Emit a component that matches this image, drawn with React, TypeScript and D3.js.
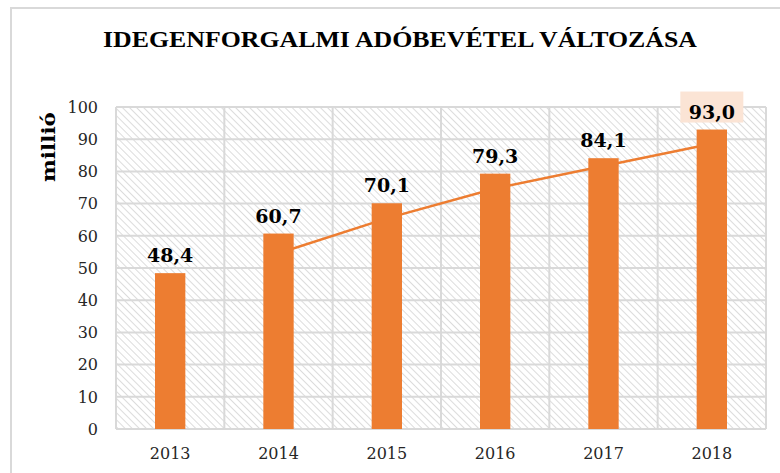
import React from "react";
import * as d3 from "d3";

const categories = ["2013", "2014", "2015", "2016", "2017", "2018"];
const values = [48.4, 60.7, 70.1, 79.3, 84.1, 93.0];
const valueLabels = ["48,4", "60,7", "70,1", "79,3", "84,1", "93,0"];
// 2-period moving average trendline (starts at 2014)
const trendCategories = ["2014", "2015", "2016", "2017", "2018"];
const trendValues = [54.6, 65.4, 74.7, 81.7, 88.6];
const yTicks = [0, 10, 20, 30, 40, 50, 60, 70, 80, 90, 100];
const title = "IDEGENFORGALMI ADÓBEVÉTEL VÁLTOZÁSA";
const yTitle = "millió";

const W = 780;
const H = 473;
const plot = { left: 116, right: 766, top: 107, bottom: 429 };
const ORANGE = "#ed7d31";
const GRID = "#d9d9d9";

export default function App() {
  const x = d3
    .scaleBand<string>()
    .domain(categories)
    .range([plot.left, plot.right])
    .paddingInner(0.72)
    .paddingOuter(0.36);
  const step = x.step();
  const y = d3.scaleLinear().domain([0, 100]).range([plot.bottom, plot.top]);

  const line = d3
    .line<number>()
    .x((_, i) => (x(trendCategories[i]) as number) + x.bandwidth() / 2)
    .y((d) => y(d));

  const boundaries = d3.range(categories.length + 1).map((i) => plot.left + i * step);

  return (
    <svg
      width={W}
      height={H}
      style={{ position: "absolute", left: 0, top: 0, background: "#fff" }}
    >
      <defs>
        <pattern
          id="hatch"
          patternUnits="userSpaceOnUse"
          width={5}
          height={5}
          patternTransform="rotate(-45)"
        >
          <rect width={5} height={5} fill="#ffffff" />
          <line x1={0} y1={0} x2={0} y2={5} stroke="#d4d4d4" strokeWidth={1.6} />
        </pattern>
      </defs>

      {/* outer chart border */}
      <rect x={11} y={8} width={W + 20} height={H + 20} fill="none" stroke={GRID} strokeWidth={2} />

      {/* title */}
      <text
        x={103}
        y={47}
        textLength={594}
        lengthAdjust="spacingAndGlyphs"
        fontFamily="'Liberation Serif', serif"
        fontWeight="bold"
        fontSize={23}
        fill="#000"
      >
        {title}
      </text>

      {/* plot background */}
      <rect
        x={plot.left}
        y={plot.top}
        width={plot.right - plot.left}
        height={plot.bottom - plot.top}
        fill="url(#hatch)"
      />

      {/* horizontal gridlines */}
      {yTicks.map((t) => (
        <line
          key={"h" + t}
          x1={plot.left}
          x2={plot.right}
          y1={y(t)}
          y2={y(t)}
          stroke={GRID}
          strokeWidth={2}
        />
      ))}
      {/* vertical gridlines */}
      {boundaries.map((bx, i) => (
        <line
          key={"v" + i}
          x1={bx}
          x2={bx}
          y1={plot.top}
          y2={plot.bottom}
          stroke={GRID}
          strokeWidth={2}
        />
      ))}

      {/* y tick labels */}
      {yTicks.map((t) => (
        <text
          key={"yt" + t}
          x={98}
          y={y(t)}
          dy="0.36em"
          textAnchor="end"
          fontFamily="'DejaVu Serif', serif"
          fontSize={16}
          fill="#262626"
        >
          {t}
        </text>
      ))}

      {/* y axis title */}
      <text
        transform={`translate(55,147) rotate(-90)`}
        textAnchor="middle"
        textLength={70}
        lengthAdjust="spacingAndGlyphs"
        fontFamily="'DejaVu Serif', serif"
        fontWeight="bold"
        fontSize={18}
        fill="#000"
      >
        {yTitle}
      </text>

      {/* x labels */}
      {categories.map((c) => (
        <text
          key={"xl" + c}
          x={(x(c) as number) + x.bandwidth() / 2}
          y={459}
          textAnchor="middle"
          fontFamily="'DejaVu Serif', serif"
          fontSize={16}
          fill="#262626"
        >
          {c}
        </text>
      ))}

      {/* trendline */}
      <path d={line(trendValues) || ""} fill="none" stroke={ORANGE} strokeWidth={2.5} />

      {/* bars */}
      {values.map((v, i) => (
        <rect
          key={"b" + i}
          x={x(categories[i]) as number}
          y={y(v)}
          width={x.bandwidth()}
          height={y(0) - y(v)}
          fill={ORANGE}
        />
      ))}

      {/* highlight box for last label */}
      {(() => {
        const i = values.length - 1;
        const cx = (x(categories[i]) as number) + x.bandwidth() / 2;
        return (
          <rect x={cx - 31.5} y={y(values[i]) - 38} width={63} height={31} fill="#fbe4d5" />
        );
      })()}

      {/* data labels */}
      {values.map((v, i) => (
        <text
          key={"dl" + i}
          x={(x(categories[i]) as number) + x.bandwidth() / 2}
          y={y(v) - 11}
          textAnchor="middle"
          fontFamily="'DejaVu Serif', serif"
          fontWeight="bold"
          fontSize={19}
          fill="#000"
        >
          {valueLabels[i]}
        </text>
      ))}
    </svg>
  );
}
